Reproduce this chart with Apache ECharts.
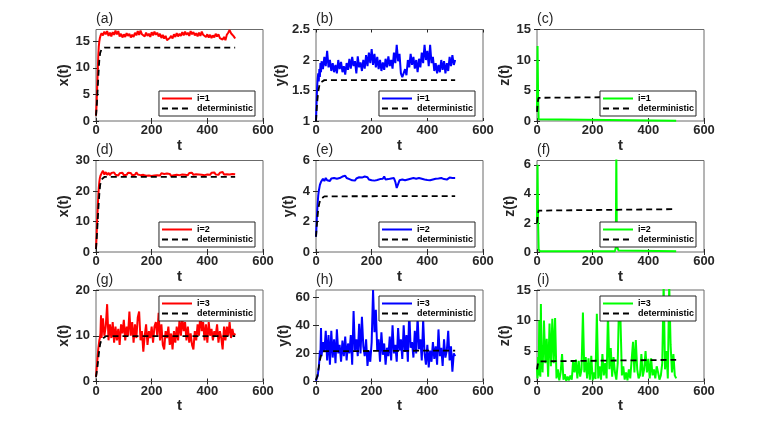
<!DOCTYPE html>
<html>
<head>
<meta charset="utf-8">
<script src="https://cdn.jsdelivr.net/npm/echarts@6/dist/echarts.min.js"></script>
<style>
html,body{margin:0;padding:0;background:#fff;}
#main{width:774px;height:429px;}
</style>
</head>
<body>
<div id="main"></div>
<script>
// shared time grid for the noisy runs
var tGrid = [0,2,4,6,8,10,12,14,16,18,
    20,25,30,35,40,45,50,55,60,65,
    70,75,80,85,90,95,100,105,110,115,
    120,125,130,135,140,145,150,155,160,165,
    170,175,180,185,190,195,200,205,210,215,
    220,225,230,235,240,245,250,255,260,265,
    270,275,280,285,290,295,300,305,310,315,
    320,325,330,335,340,345,350,355,360,365,
    370,375,380,385,390,395,400,405,410,415,
    420,425,430,435,440,445,450,455,460,465,
    470,475,480,485,490,495,500];

// i=1
var x1 = [1,3,6,9,12,14,15,15.6,16,16.2,
    16.5,16.1,16.8,16.3,16.9,16.0,16.6,15.9,16.7,16.2,
    17.0,16.3,16.9,15.9,16.4,15.7,16.3,15.8,16.5,16.0,
    16.4,15.7,16.2,15.8,16.6,16.1,16.9,16.2,17.0,16.3,
    16.5,15.9,16.6,16.0,16.4,15.8,16.7,16.1,16.8,16.2,
    16.6,15.9,16.4,15.6,16.2,15.5,16.0,15.2,15.0,15.6,
    16.0,15.5,16.3,15.8,16.5,15.9,16.4,16.0,16.7,16.1,
    16.8,16.2,16.6,16.0,16.9,16.3,16.7,16.1,16.5,15.9,
    16.6,16.0,16.8,16.2,16.5,15.8,16.3,15.7,16.2,15.6,
    16.1,15.7,16.4,15.9,16.3,15.6,15.9,15.3,15.8,15.2,
    16.2,16.6,17.1,16.5,16.8,15.9,15.5];
var y1 = [1.0,1.3,1.55,1.7,1.78,1.65,1.85,1.72,1.95,1.8,
    1.98,1.85,2.05,1.9,2.15,1.88,2.0,1.82,1.95,1.8,
    1.92,1.78,2.0,1.85,1.97,1.8,1.9,1.76,1.95,1.84,
    2.02,1.86,2.05,1.9,1.98,1.78,2.06,1.88,1.96,1.82,
    2.0,1.86,2.08,1.9,2.12,1.95,2.18,1.92,2.1,1.88,
    2.05,1.85,2.0,1.82,1.96,1.84,2.02,1.88,2.06,1.9,
    2.0,1.86,2.12,1.95,2.25,1.98,2.1,1.78,1.72,1.7,
    1.85,1.75,2.0,1.88,2.1,1.92,2.05,1.86,2.0,1.8,
    2.02,1.88,2.12,1.95,2.25,2.0,2.15,1.9,2.25,1.95,
    2.05,1.82,1.95,1.78,1.92,1.8,2.0,1.84,1.98,1.78,
    1.95,1.82,2.05,1.9,2.08,1.92,2.0];
var z1 = [[0,2],[2,12.3],[4,4],[6,0.3],[10,0.05],[500,0.03]];

// i=2
var x2 = [1,5,10,14,18,21,23,24.3,25,25.5,
    25.8,26.6,25.4,26.2,25.3,26,25.2,25.9,25.4,26.1,
    25.3,25.9,25.1,25.8,25.4,26,25.2,25.8,25.3,26,
    25.4,25.9,25.2,25.7,25.3,26.1,25.4,25.8,25.2,25.7,
    25.3,25.8,25,25.6,25.1,25.7,24.9,25.5,25.1,25.6,
    25.2,25.7,25.1,25.8,25.2,25.6,25,25.7,25.1,25.6,
    24.9,25.5,25.2,25.8,25.3,25.9,25.2,25.7,25.4,26,
    25.3,25.8,25.2,25.9,25.4,26,25.3,25.8,25.5,26.1,
    25.4,25.9,25.3,25.8,25.2,25.7,25.4,25.9,25.3,26,
    25.5,26.1,25.4,25.9,25.3,26,25.5,26.2,25.4,26,
    25.5,26.1,25.4,25.9,25.6,25.3,25.5];
var y2 = [1,1.8,2.6,3.2,3.7,4,4.2,4.4,4.5,4.6,
    4.55,4.8,4.65,4.85,4.7,4.8,4.65,4.82,4.7,4.85,
    4.72,4.8,4.68,4.85,4.75,4.95,4.82,5.0,4.85,4.92,
    4.78,4.85,4.7,4.8,4.68,4.82,4.75,4.9,4.78,4.88,
    4.8,4.95,4.85,4.9,4.75,4.82,4.7,4.78,4.68,4.8,
    4.72,4.85,4.78,4.9,4.8,4.95,4.75,4.85,4.78,4.9,
    4.82,4.95,4.85,4.6,4.2,4.45,4.7,4.8,4.75,4.85,
    4.7,4.82,4.75,4.88,4.8,4.92,4.85,4.95,4.8,4.9,
    4.85,4.92,4.8,4.88,4.75,4.85,4.72,4.8,4.7,4.82,
    4.75,4.85,4.8,4.9,4.82,4.95,4.85,4.92,4.78,4.88,
    4.75,4.82,4.88,4.78,4.85,4.8,4.85];
var z2 = [[0,2],[2,6],[4,2],[6,0.2],[10,0.05],[280,0.05],[283,0.3],[285,6.8],[287,0.4],[290,0.5],[293,0.1],[500,0.05]];

// i=3
var x3 = [1,2.5,4,5.5,7,8,9,9.5,10.5,14.5,
    9.5,13.8,10,12,16.9,9,12.5,9.5,13,8.5,
    12,9,11.5,8,12.5,10.5,13.5,9,12,10,
    15.3,10,13,8.5,12.5,9.5,14,15.3,9,11,
    6.5,10,12.5,8,11,9.5,12,8.5,12,13,
    10,15,9,12.5,8,7,11,9.5,12,8,
    10.5,7,11,8.5,12,9,13.5,10,14,11,
    13,9,12,8.5,10.5,8,7,11,9,12.5,
    10,15,11,13,9,12.5,8.5,13,10,11.5,
    9,11,10,12.5,8.5,11,9.5,7,12,9,
    12,10,13,9.5,11.5,10,10.5];
var y3 = [0.5,2,3,4,5,10,15,22,20,38,
    18,28,21,36,15,33,12,36,17,30,
    13,37,20,26,14,29,18,32,15,27,
    20,33,12,50,22,30,18,41,20,46,
    25,18,30,11,22,14,28,65,35,51,
    22,30,14,35,19,27,12,24,18,32,
    15,40,20,26,14,38,22,30,16,40,
    21,33,14,50,24,28,17,36,20,46,
    23,30,15,44,20,12,26,10,22,14,
    28,16,25,12,37,18,24,11,30,17,
    22,36,15,25,7,20,18];
var z3 = [2,0.5,4,1,10,3,0.8,12.7,2,6,
    1.5,10,3,7,0.8,9.5,2.5,10.3,3,10.4,
    0.5,2,0.2,1.5,4.5,0.3,1.2,0.1,0.8,0.2,
    1,0.3,3.5,1.5,3.6,0.5,3.4,0.8,2,11.3,
    1.5,4,0.5,3.8,0.3,4.2,0.2,1.5,0.4,11.1,
    0.5,2.5,0.3,4.5,1,3,0.5,11.2,2,5.5,
    0.8,4,1.5,0.3,3,13.5,10,1,2.5,0.3,
    1.5,0.2,2,0.5,3.5,6.5,1.5,6.8,2,0.5,
    1,4.5,0.8,2,5,1.5,3.7,0.5,3.8,1,
    2,0.5,2.5,1.5,0.3,1,3,16,2,5,
    0.5,16,6,1.5,4.5,1,0.5];

// deterministic curves
var xD1 = [[0,1],[3,3],[6,6],[9,9],[12,11.5],[15,12.8],[20,13.5],[25,13.75],[30,13.8],[500,13.8]];
var yD1 = [[0,1],[4,1.3],[8,1.48],[12,1.58],[16,1.63],[20,1.66],[30,1.67],[500,1.67]];
var zD1 = [[0,1.5],[3,3.2],[6,3.8],[10,4],[500,4]];
var xD2 = [[0,1],[3,5],[6,10],[9,15],[12,19],[15,22],[20,23.8],[25,24.4],[30,24.6],[500,24.6]];
var yD2 = [[0,1],[4,2],[8,2.8],[12,3.2],[16,3.45],[20,3.55],[30,3.65],[500,3.67]];
var zD2 = [[0,2],[3,2.6],[6,2.85],[10,2.95],[500,2.95]];
var xD3 = [[0,1],[5,3],[10,6],[15,8.2],[20,9.2],[25,9.6],[35,9.9],[500,9.9]];
var yD3 = [[0,1],[5,4],[10,10],[15,16],[20,20],[25,21.5],[30,22],[500,22]];
var zD3 = [[0,2],[3,2.8],[6,3.3],[10,3.5],[500,3.55]];

// tick labels
var tTicks = [0,200,400,600];
var xTicks1 = [0,5,10,15], yTicks1 = [1,1.5,2,2.5], zTicks1 = [0,5,10,15];
var xTicks2 = [0,10,20,30], yTicks2 = [0,2,4,6], zTicks2 = [0,2,4,6];
var xTicks3 = [0,10,20], yTicks3 = [0,20,40,60], zTicks3 = [0,5,10,15];

function zip(t, v){
    var out = [];
    for(var i=0;i<t.length;i++){ out.push([t[i], v[i]]); }
    return out;
}

var FONT = 'Liberation Sans';
var colLeft = [96, 316, 537], rowTop = [29.5, 160.5, 290];
var plotW = 167, plotH = 91.5;

var panels = [
    {tag:'(a)', yname:'x(t)', min:0, max:17.2, ticks:xTicks1, s:zip(tGrid,x1), d:xD1, color:'#ff0000', lab:'i=1'},
    {tag:'(b)', yname:'y(t)', min:1, max:2.5, ticks:yTicks1, s:zip(tGrid,y1), d:yD1, color:'#0000ff', lab:'i=1'},
    {tag:'(c)', yname:'z(t)', min:0, max:15, ticks:zTicks1, s:z1, d:zD1, color:'#00ff00', lab:'i=1'},
    {tag:'(d)', yname:'x(t)', min:0, max:30, ticks:xTicks2, s:zip(tGrid,x2), d:xD2, color:'#ff0000', lab:'i=2'},
    {tag:'(e)', yname:'y(t)', min:0, max:6, ticks:yTicks2, s:zip(tGrid,y2), d:yD2, color:'#0000ff', lab:'i=2'},
    {tag:'(f)', yname:'z(t)', min:0, max:6.3, ticks:zTicks2, s:z2, d:zD2, color:'#00ff00', lab:'i=2'},
    {tag:'(g)', yname:'x(t)', min:0, max:20, ticks:xTicks3, s:zip(tGrid,x3), d:xD3, color:'#ff0000', lab:'i=3'},
    {tag:'(h)', yname:'y(t)', min:0, max:65, ticks:yTicks3, s:zip(tGrid,y3), d:yD3, color:'#0000ff', lab:'i=3'},
    {tag:'(i)', yname:'z(t)', min:0, max:15, ticks:zTicks3, s:zip(tGrid,z3), d:zD3, color:'#00ff00', lab:'i=3'}
];

var labelText = {};
var option = {
    backgroundColor:'#fff',
    animation:false,
    title:[], grid:[], xAxis:[], yAxis:[], legend:[], series:[]
};

panels.forEach(function(p, i){
    var col = i % 3, row = Math.floor(i / 3);
    var left = colLeft[col], top = rowTop[row];
    var tickStyle = {color:'#262626', width:1};
    var lblStyle = {fontSize:13, fontWeight:'bold', color:'#262626', fontFamily:FONT};

    option.title.push({
        text:p.tag, left:left, top:top - 17, padding:0,
        textStyle:{fontSize:14, fontWeight:'normal', color:'#262626', fontFamily:FONT}
    });
    option.grid.push({
        left:left, top:top, width:plotW, height:plotH,
        show:true, borderColor:'#6b6b6b', borderWidth:1, backgroundColor:'#fff',
        outerBoundsMode:'none'
    });
    // bottom + top x axes
    option.xAxis.push({
        type:'value', gridIndex:i, position:'bottom', min:0, max:600,
        name:'t', nameLocation:'middle', nameGap:10,
        nameTextStyle:{fontSize:15, fontWeight:'bold', color:'#262626', fontFamily:FONT},
        axisLine:{show:false},
        axisTick:{show:true, inside:true, length:3, customValues:tTicks, lineStyle:tickStyle},
        axisLabel:Object.assign({customValues:tTicks, margin:3}, lblStyle),
        splitLine:{show:false}
    });
    option.xAxis.push({
        type:'value', gridIndex:i, position:'top', min:0, max:600,
        axisLine:{show:false},
        axisTick:{show:true, inside:true, length:3, customValues:tTicks, lineStyle:tickStyle},
        axisLabel:{show:false}, splitLine:{show:false}
    });
    // left + right y axes
    option.yAxis.push({
        type:'value', gridIndex:i, position:'left', min:p.min, max:p.max,
        name:p.yname, nameLocation:'middle', nameGap:20,
        nameTextStyle:{fontSize:14, fontWeight:'bold', color:'#262626', fontFamily:FONT},
        axisLine:{show:false},
        axisTick:{show:true, inside:true, length:3, customValues:p.ticks, lineStyle:tickStyle},
        axisLabel:Object.assign({customValues:p.ticks, margin:6}, lblStyle),
        splitLine:{show:false}
    });
    option.yAxis.push({
        type:'value', gridIndex:i, position:'right', min:p.min, max:p.max,
        axisLine:{show:false},
        axisTick:{show:true, inside:true, length:3, customValues:p.ticks, lineStyle:tickStyle},
        axisLabel:{show:false}, splitLine:{show:false}
    });

    var sName = 's' + i, dName = 'd' + i;
    labelText[sName] = p.lab;
    labelText[dName] = 'deterministic';

    option.series.push({
        name:sName, type:'line', xAxisIndex:2*i, yAxisIndex:2*i,
        data:p.s, symbol:'none', showSymbol:false, clip:true,
        lineStyle:{color:p.color, width:2}, itemStyle:{color:p.color}
    });
    option.series.push({
        name:dName, type:'line', xAxisIndex:2*i, yAxisIndex:2*i,
        data:p.d, symbol:'none', showSymbol:false, clip:true,
        lineStyle:{color:'#000', width:1.8, type:[6,4]}, itemStyle:{color:'#000'}
    });

    var lg = {
        orient:'vertical', right:774 - (left + plotW - 8),
        data:[sName, dName], selectedMode:false,
        itemWidth:30, itemHeight:11, itemGap:1, padding:[3,2,3,2],
        backgroundColor:'#fff', borderColor:'#262626', borderWidth:1, borderRadius:0,
        itemStyle:{opacity:0},
        formatter:function(n){ return labelText[n]; },
        textStyle:{fontSize:9, fontWeight:'bold', color:'#000', fontFamily:FONT}
    };
    if(row < 2){ lg.bottom = 429 - (top + plotH - 5); } else { lg.top = top + 6; }
    option.legend.push(lg);
});

var chart = echarts.init(document.getElementById('main'));
chart.setOption(option);
</script>
</body>
</html>
